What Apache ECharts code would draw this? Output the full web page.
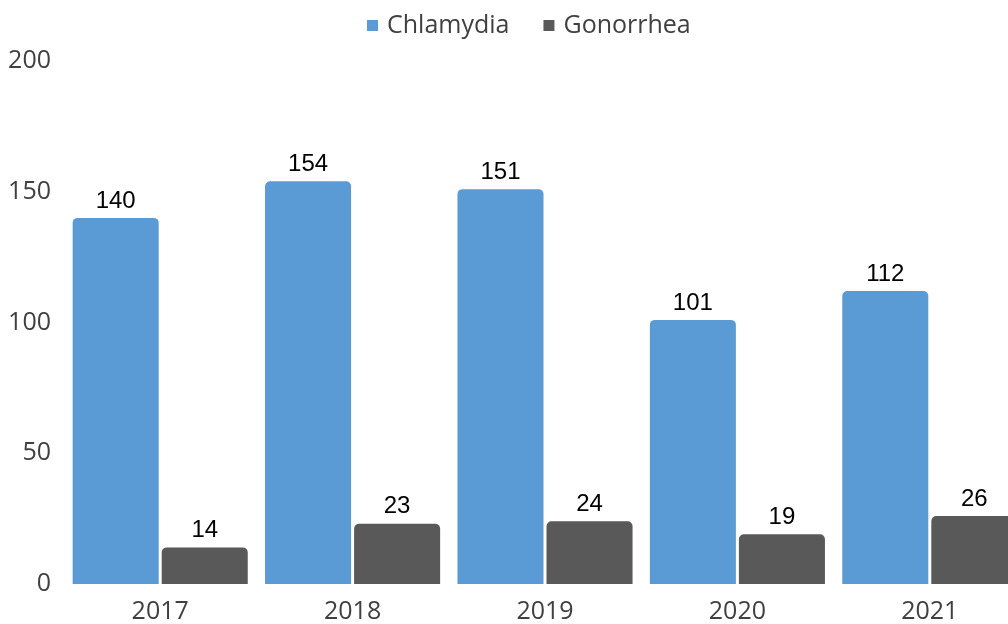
<!DOCTYPE html>
<html><head><meta charset="utf-8">
<script src="https://cdn.jsdelivr.net/npm/echarts@6/dist/echarts.min.js"></script>
<style>html,body{margin:0;padding:0;background:#fff;overflow:hidden;width:1008px;height:624px}#c{width:1026px;height:624px}</style>
</head><body><div id="c"></div>
<script>
const years = ['2017','2018','2019','2020','2021'];
const chlamydia = [140,154,151,101,112];
const gonorrhea = [14,23,24,19,26];
const yTicks = [0,50,100,150,200];

const chart = echarts.init(document.getElementById('c'));
const labelStyle = {show:true, position:'top', distance:5, fontFamily:'Liberation Sans, Arial', fontSize:24, color:'#000'};
chart.setOption({
  animation:false,
  legend:{top:8, left:362, itemWidth:11, itemHeight:11, itemGap:34, icon:'rect',
    textStyle:{fontFamily:'Open Sans', fontSize:25, color:'#404040', padding:[0,0,0,4]}},
  grid:{left:64, top:61, right:0, bottom:36, containLabel:false},
  xAxis:{type:'category', data:years, axisLine:{show:false}, axisTick:{show:false},
    axisLabel:{fontFamily:'Open Sans', fontSize:25, color:'#404040', margin:15}},
  yAxis:{type:'value', min:0, max:200, interval:50, splitLine:{show:false}, axisLine:{show:false}, axisTick:{show:false},
    axisLabel:{fontFamily:'Open Sans', fontSize:25, color:'#404040', margin:13,
      formatter:v=>yTicks.includes(v)?String(v):''}},
  series:[
    {name:'Chlamydia', type:'bar', data:chlamydia, barGap:'3.5%', barCategoryGap:'9%',
     itemStyle:{color:'#5B9BD5', borderRadius:[5,5,0,0]}, label:labelStyle},
    {name:'Gonorrhea', type:'bar', data:gonorrhea,
     itemStyle:{color:'#595959', borderRadius:[5,5,0,0]}, label:labelStyle}
  ]
});
</script></body></html>
